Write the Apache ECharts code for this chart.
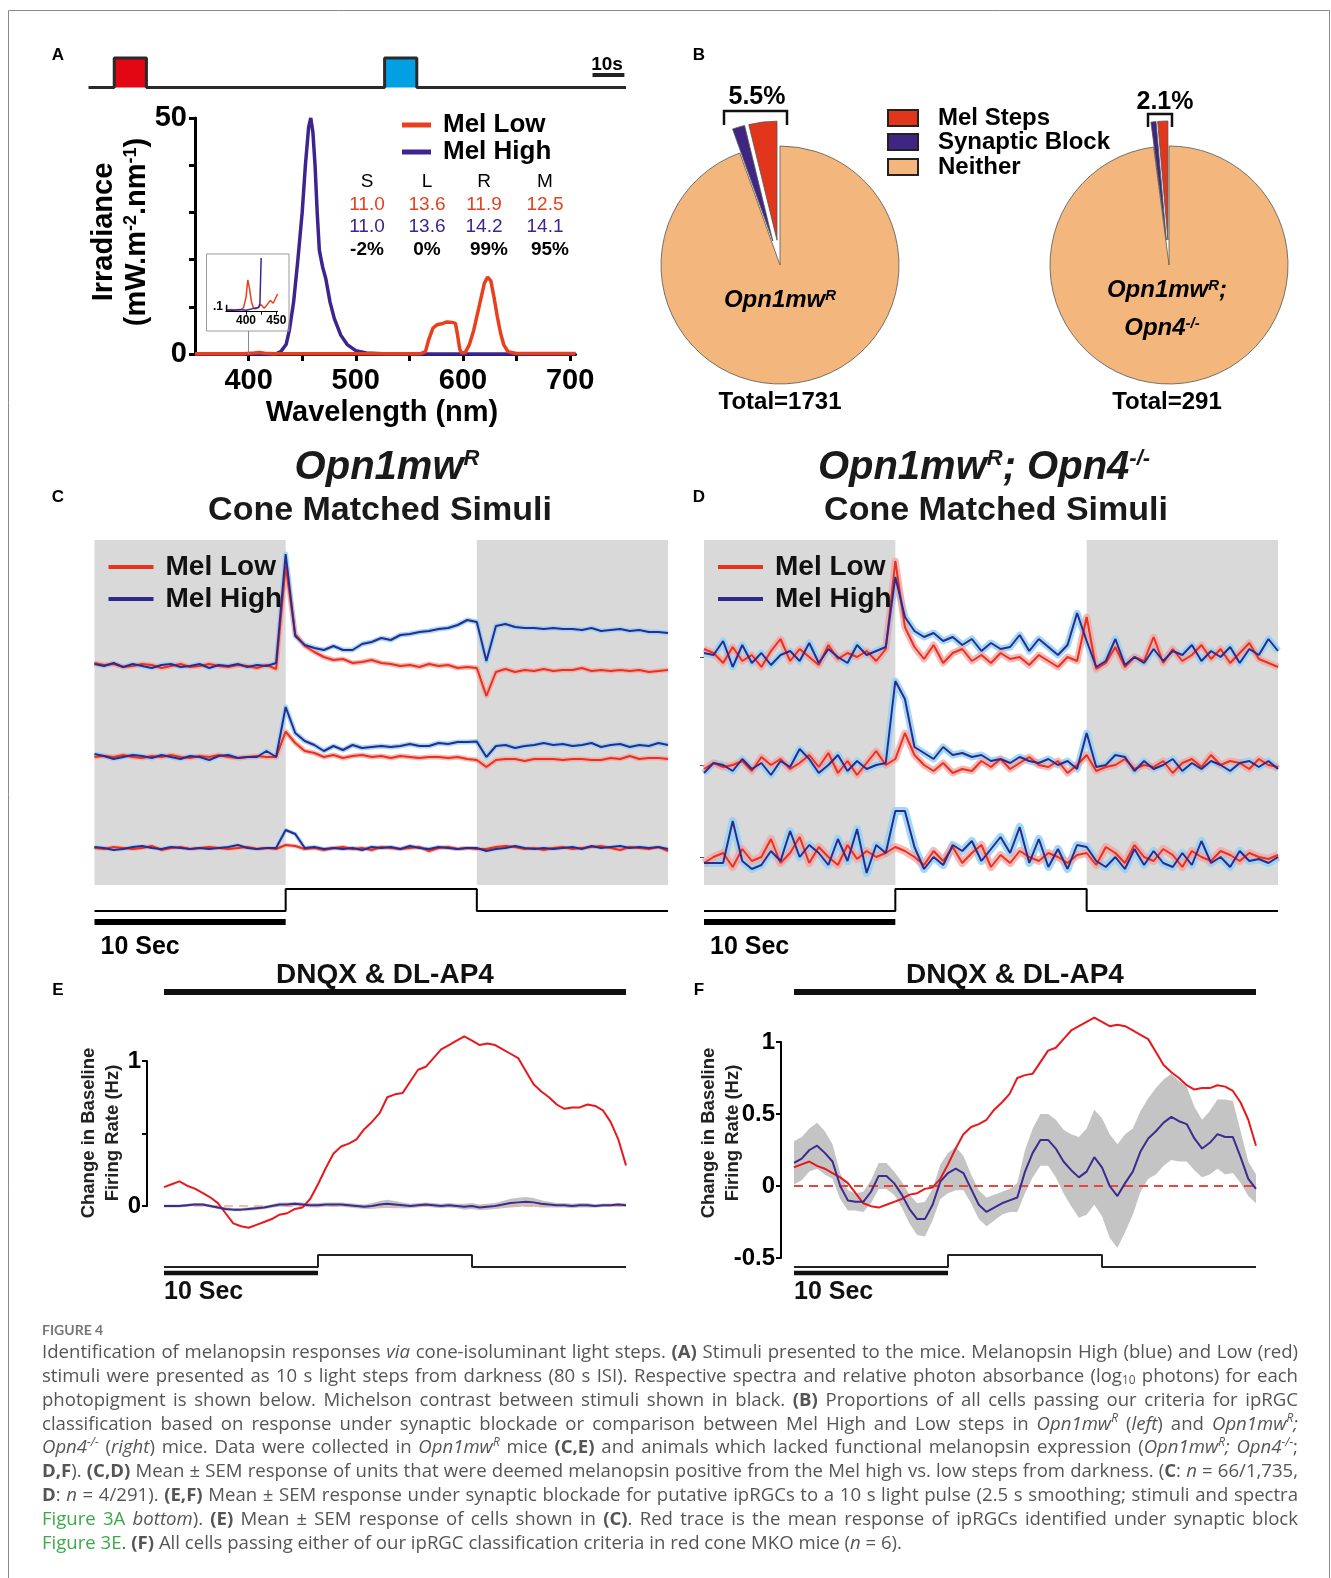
<!DOCTYPE html>
<html><head><meta charset="utf-8">
<script src="https://cdn.jsdelivr.net/npm/echarts@6/dist/echarts.min.js"></script>
<style>html,body{margin:0;padding:0;background:#fff}#c{width:1331px;height:1578px}</style>
</head><body><div id="c"></div>
<script>
// ---------------- DATA ----------------
// Panel A: stimulus protocol (seconds)
const stimAPulseStart = [8, 92];
const stimAPulseLen = 10;
const stimAEnd = 167;
// Panel A: spectra (nm, mW.m-2.nm-1)
const melHighWl  = [350,425,430,435,438,442,446,450,453,456,458,460,462,464,466,469,472,476,480,486,492,500,510,530,600,640,705];
const melHighIrr = [0,0,0.5,2,5,11,20,30,40,48,50,47,40,30,22,18.5,16,11,7.5,4,2,0.7,0.2,0,0,0,0];
const melLowWl  = [350,395,405,410,415,425,450,560,565,568,572,576,580,585,590,593,595,597,599,602,606,610,615,620,623,626,629,632,635,638,642,650,705];
const melLowIrr = [0.05,0.05,0.2,0.3,0.15,0.05,0.05,0.05,0.5,3,5.5,6.2,6.4,6.8,6.7,6.5,4,1,0.2,0.3,2,5,10,15,16.3,15.5,12,8,4.5,2,0.5,0.1,0.1];
// inset (zoom on 367-452 nm)
const insetLowWl  = [367,375,385,392,396,400,403,406,409,412,416,420,425,430,435,440,445,452];
const insetLowIrr = [0.02,0.03,0.02,0.03,0.06,0.2,0.45,0.32,0.14,0.06,0.04,0.06,0.1,0.05,0.1,0.16,0.12,0.25];
const insetHighWl  = [367,380,390,400,410,415,418,421,423,425];
const insetHighIrr = [0.02,0.02,0.03,0.02,0.04,0.05,0.03,0.06,0.12,0.76];
// Panel A table
const opsins = ['S','L','R','M'];
const melLowLog  = [11.0,13.6,11.9,12.5];
const melHighLog = [11.0,13.6,14.2,14.1];
const contrastPct = [-2,0,99,95];
// Panel B pies
const pieCats = ['Mel Steps','Synaptic Block','Neither'];
const pieLeftCounts  = [66, 29, 1636];
const pieRightCounts = [4, 2, 285];
const pieLeftPct = '5.5%', pieRightPct = '2.1%';
const pieLeftTotal = 1731, pieRightTotal = 291;
// Panels C-F: light step (s)
const stepOnsets = [10], stepLen = 10, stepEnd = 30;
// Panel C (0.5 s bins, 0..30 s) rows top->bottom
const C1High = [0.1,0.0,0.15,-0.05,0.1,0.0,-0.1,0.05,0.1,-0.05,0.0,0.1,-0.1,0.05,0.0,0.1,-0.05,0.05,0.0,0.15,
 5.6,1.5,1.05,0.9,0.8,1.0,0.8,0.8,1.1,1.2,1.4,1.3,1.55,1.6,1.7,1.75,1.85,1.9,2.05,2.3,2.2,
 0.25,2.0,2.1,1.95,1.9,1.9,1.85,1.9,1.85,1.85,1.8,1.9,1.75,1.8,1.85,1.75,1.8,1.7,1.7,1.65];
const C1Low = [0.15,0.05,0.1,-0.05,0.0,0.1,0.05,-0.1,0.0,0.1,-0.05,0.0,0.1,0.0,-0.05,0.05,0.0,-0.1,0.05,-0.15,
 5.0,1.6,1.0,0.7,0.45,0.3,0.35,0.15,0.2,0.3,0.15,0.1,0.0,0.05,-0.05,0.1,0.0,0.05,-0.1,-0.05,-0.1,
 -1.5,-0.3,-0.15,-0.3,-0.2,-0.25,-0.15,-0.25,-0.2,-0.2,-0.1,-0.25,-0.2,-0.25,-0.2,-0.25,-0.2,-0.3,-0.25,-0.2];
const C2High = [0.15,0.05,-0.1,0.0,0.1,0.05,-0.05,0.1,0.0,-0.1,0.05,0.0,-0.15,0.05,0.1,-0.05,0.0,0.0,0.3,0.0,
 2.5,1.2,0.8,0.6,0.3,0.55,0.35,0.6,0.45,0.5,0.55,0.5,0.55,0.65,0.55,0.55,0.7,0.65,0.75,0.75,0.77,
 0.0,0.55,0.6,0.45,0.55,0.6,0.7,0.6,0.65,0.55,0.6,0.7,0.5,0.6,0.65,0.5,0.6,0.55,0.7,0.6];
const C2Low = [0.0,0.05,0.0,0.1,0.0,-0.05,0.05,0.0,0.1,0.0,-0.05,0.05,0.0,0.1,0.0,-0.05,0.0,0.05,0.0,0.0,
 1.27,0.7,0.3,0.2,0.0,0.1,-0.05,0.05,0.1,0.0,0.05,-0.05,0.05,0.0,-0.05,0.0,0.0,-0.05,0.0,-0.1,-0.15,
 -0.5,-0.15,-0.1,-0.1,-0.2,-0.1,-0.1,-0.1,-0.15,-0.1,-0.1,-0.15,-0.15,-0.05,-0.1,0.05,-0.1,-0.05,-0.05,-0.1];
const C3High = [0.05,0.0,-0.1,-0.05,0.05,0.1,0.0,-0.05,0.05,0.0,-0.05,0.0,-0.05,0.0,0.05,0.15,0.0,-0.05,0.0,0.0,
 0.9,0.7,0.0,0.05,-0.05,0.0,-0.05,0.0,-0.1,0.05,0.0,0.05,-0.05,0.1,0.0,-0.05,0.05,0.0,-0.05,0.0,0.0,
 -0.15,-0.05,0.0,0.1,0.0,-0.05,0.0,-0.05,0.0,0.05,-0.05,0.1,0.0,0.05,0.1,0.0,0.05,0.0,0.05,-0.05];
const C3Low = [0.0,-0.05,0.05,0.0,-0.05,0.0,0.1,-0.1,0.0,0.05,-0.05,0.0,0.05,0.0,-0.05,0.0,0.05,-0.05,0.0,-0.05,
 0.15,0.1,-0.05,0.0,-0.1,0.0,0.05,-0.05,0.0,-0.1,0.05,0.0,-0.05,0.0,0.05,-0.15,0.0,0.05,-0.05,0.0,-0.05,
 -0.05,0.05,0.1,0.05,-0.05,0.0,-0.1,0.0,0.05,-0.05,0.0,0.05,0.1,0.0,-0.1,0.05,0.0,-0.05,0.05,-0.15];
// Panel D
const D1High = [0.2,0.1,0.8,-0.5,0.6,-0.3,0.2,-0.4,0.1,0.3,-0.2,0.7,-0.3,0.4,0.0,-0.3,0.6,0.1,0.3,0.5,
 4.0,2.0,1.3,1.0,1.2,0.8,1.0,0.6,0.9,0.3,0.7,0.4,0.5,1.1,0.3,0.9,0.5,0.1,0.6,2.2,0.8,
 -0.5,-0.2,0.9,-0.4,0.0,-0.3,0.4,-0.2,0.3,0.1,0.6,-0.2,0.3,0.0,0.5,-0.3,0.4,0.1,0.9,0.3];
const D1Low = [0.4,0.2,-0.3,0.5,-0.2,0.1,-0.5,0.3,0.9,-0.2,0.4,0.0,-0.4,0.6,-0.1,0.2,0.0,0.3,-0.2,0.4,
 4.8,1.5,0.5,-0.1,0.6,-0.3,0.2,0.4,-0.2,0.1,-0.3,0.2,-0.1,0.0,-0.4,0.1,-0.2,-0.5,0.0,-0.2,2.0,
 -0.6,-0.3,0.5,-0.5,0.0,-0.2,1.0,-0.3,0.4,-0.2,0.1,0.6,-0.1,0.4,-0.3,0.2,0.7,-0.1,-0.3,-0.5];
const D2High = [-0.4,0.1,0.0,-0.3,0.3,-0.2,0.1,-0.5,0.2,-0.1,0.8,0.3,-0.4,0.0,0.5,-0.3,0.2,-0.2,0.0,0.1,
 4.2,3.3,0.9,0.6,0.3,0.9,0.5,0.6,0.4,0.5,0.2,0.3,0.1,0.4,0.2,0.1,0.3,0.0,0.2,-0.2,1.6,
 -0.1,0.0,0.5,0.4,-0.3,0.2,-0.2,0.0,0.3,-0.3,0.1,-0.2,0.2,0.0,-0.3,0.1,0.2,-0.1,0.2,-0.2];
const D2Low = [-0.2,0.1,-0.1,0.0,0.2,-0.3,0.4,0.0,0.3,-0.2,0.1,0.5,-0.1,0.6,-0.4,0.2,-0.5,0.1,0.7,0.0,
 0.3,1.6,0.5,0.0,-0.3,0.1,-0.4,-0.2,-0.3,0.2,-0.1,0.3,-0.2,0.1,0.4,0.0,-0.1,0.2,-0.4,0.0,0.5,
 -0.3,-0.1,0.0,0.3,-0.2,0.0,-0.1,0.2,-0.4,0.1,0.3,-0.1,0.5,0.0,0.2,0.1,-0.2,0.3,0.0,-0.1];
const D3High = [-0.3,-0.3,-0.3,1.8,-0.2,-0.6,-0.4,0.3,-0.2,1.3,0.0,0.6,0.2,-0.4,0.9,-0.2,1.4,-0.8,0.6,0.2,
 2.3,2.3,0.5,-0.6,0.0,-0.4,0.6,0.3,0.8,-0.2,0.4,1.0,0.2,1.5,-0.3,0.9,-0.5,0.4,-0.6,0.6,0.5,
 -0.2,-0.5,0.0,-0.6,0.4,-0.4,0.3,-0.3,-0.5,0.2,-0.4,0.8,-0.3,0.0,-0.5,0.3,-0.2,-0.1,-0.3,0.0];
const D3Low = [-0.3,0.0,0.2,-0.5,0.4,-0.2,0.0,0.9,-0.3,0.2,1.0,-0.3,0.5,0.0,-0.4,0.6,-0.1,0.3,0.0,0.2,
 0.5,0.3,0.0,-0.4,0.3,-0.2,0.5,-0.3,0.2,0.6,-0.5,0.1,-0.3,0.3,0.0,-0.2,0.2,0.0,-0.3,0.1,0.2,
 -0.4,0.5,0.2,-0.3,0.6,0.0,-0.2,0.4,0.1,-0.5,0.3,0.0,-0.2,0.3,0.1,-0.2,0.2,0.0,-0.1,0.1];
// Panels E/F (Hz, 0.5 s bins)
const redSynBlock = [0.13,0.15,0.17,0.14,0.12,0.09,0.06,0.02,-0.05,-0.12,-0.14,-0.15,-0.13,-0.11,-0.09,-0.06,-0.05,-0.02,-0.01,0.05,
 0.15,0.26,0.36,0.41,0.43,0.46,0.53,0.58,0.64,0.75,0.77,0.78,0.86,0.94,0.96,1.02,1.08,1.11,1.14,1.17,
 1.14,1.11,1.12,1.11,1.08,1.05,1.02,0.93,0.84,0.79,0.75,0.70,0.67,0.68,0.68,0.70,0.69,0.66,0.58,0.46,0.28];
const EMean = [0.0,0.0,0.0,0.005,0.01,0.01,0.0,-0.01,-0.02,-0.025,-0.025,-0.02,-0.015,-0.01,0.0,0.01,0.01,0.015,0.01,0.005,
 0.005,0.01,0.01,0.01,0.005,0.0,-0.005,0.0,0.01,0.015,0.01,0.005,0.0,0.005,0.01,0.005,0.0,0.005,0.0,-0.005,
 0.0,-0.01,-0.005,0.0,0.01,0.02,0.025,0.03,0.025,0.015,0.01,0.005,0.005,0.0,0.005,0.005,0.0,0.005,0.005,0.01,0.005];
const ESem = [0.01,0.01,0.01,0.01,0.01,0.01,0.01,0.01,0.012,0.012,0.012,0.012,0.012,0.012,0.012,0.015,0.015,0.015,0.015,0.015,
 0.015,0.015,0.015,0.015,0.015,0.015,0.015,0.02,0.025,0.028,0.025,0.02,0.015,0.015,0.015,0.015,0.015,0.015,0.015,0.02,
 0.02,0.02,0.02,0.02,0.025,0.03,0.032,0.032,0.03,0.025,0.02,0.015,0.015,0.015,0.015,0.015,0.012,0.012,0.012,0.012,0.012];
const FMean = [0.16,0.19,0.25,0.28,0.23,0.17,0.0,-0.10,-0.11,-0.11,-0.04,0.07,0.07,0.02,-0.06,-0.16,-0.23,-0.23,-0.13,0.03,
 0.09,0.12,0.09,-0.02,-0.13,-0.18,-0.15,-0.12,-0.10,-0.08,0.10,0.23,0.32,0.32,0.26,0.17,0.11,0.06,0.10,0.20,
 0.13,0.0,-0.07,0.02,0.10,0.24,0.33,0.38,0.44,0.48,0.45,0.43,0.33,0.26,0.30,0.36,0.34,0.34,0.20,0.05,-0.02];
const FSem = [0.15,0.15,0.15,0.16,0.15,0.12,0.09,0.07,0.06,0.07,0.08,0.09,0.09,0.08,0.09,0.10,0.11,0.12,0.11,0.12,
 0.14,0.15,0.12,0.10,0.10,0.10,0.09,0.08,0.08,0.10,0.15,0.17,0.18,0.18,0.20,0.22,0.25,0.28,0.30,0.33,
 0.34,0.36,0.36,0.34,0.30,0.28,0.28,0.30,0.30,0.30,0.28,0.26,0.22,0.20,0.22,0.24,0.26,0.25,0.18,0.12,0.10];

// ---------------- HELPERS ----------------
const binT = []; for (let i = 0; i <= 60; i++) binT.push(i * 0.5);
const pairs = (xs, ys) => ys.map((v, i) => [xs[i], v]);
function stepData(onsets, dur, end) { const d = [[0,0]]; onsets.forEach(o => d.push([o,0],[o,1],[o+dur,1],[o+dur,0])); d.push([end,0]); return d; }

const FF = '"Liberation Sans", Arial, sans-serif';
const RED = '#e8401c', PURP = '#3d2490';
const CRED = '#e8321c', CBLUE = '#2c2a8f', CPINK = '#f3a3a3', CSKY = '#8fd3f4';
const grids = [], xAxes = [], yAxes = [], series = [], G = [];
function addGrid(g, xa, ya) {
  const i = grids.length;
  grids.push(Object.assign({ show: false }, g));
  xAxes.push(Object.assign({ type: 'value', gridIndex: i, show: false, splitLine: { show: false } }, xa));
  yAxes.push(Object.assign({ type: 'value', gridIndex: i, show: false, splitLine: { show: false } }, ya));
  return i;
}
function line(gi, data, color, width, extra) {
  series.push(Object.assign({ type: 'line', xAxisIndex: gi, yAxisIndex: gi, data, symbol: 'none', silent: true, clip: false,
    lineStyle: { color, width }, itemStyle: { color }, emphasis: { disabled: true } }, extra || {}));
}
// mean +/- SEM band drawn as one polygon through the axes' coordinate mapping
function band(gi, mean, sem, color) {
  series.push({ type: 'custom', xAxisIndex: gi, yAxisIndex: gi, silent: true, clip: false, data: [[binT[0], mean[0]]],
    renderItem: (params, api) => {
      const up = mean.map((m, i) => api.coord([binT[i], m + sem[i]]));
      const dn = mean.map((m, i) => api.coord([binT[i], m - sem[i]])).reverse();
      return { type: 'polygon', shape: { points: up.concat(dn) }, style: { fill: color } };
    } });
}
function txt(x, y, text, font, fill, align, extra) {
  G.push(Object.assign({ type: 'text', x, y, z: 100, silent: true, style: { text, font, fill: fill || '#000', align: align || 'center', verticalAlign: 'middle' } }, extra || {}));
}
function rtxt(x, y, text, rich, align, extra) {
  G.push(Object.assign({ type: 'text', x, y, z: 100, silent: true, style: { text, rich, fill: '#111', align: align || 'center', verticalAlign: 'middle' } }, extra || {}));
}
function gline(x1, y1, x2, y2, stroke, lineWidth) { G.push({ type: 'line', z: 100, silent: true, shape: { x1, y1, x2, y2 }, style: { stroke, lineWidth } }); }
function grect(x, y, width, height, fill, stroke, lineWidth) { G.push({ type: 'rect', z: 100, silent: true, shape: { x, y, width, height }, style: { fill, stroke, lineWidth: lineWidth || 0 } }); }
function gpoly(points, stroke, lineWidth) { G.push({ type: 'polyline', z: 100, silent: true, shape: { points }, style: { stroke, lineWidth, fill: null } }); }
const axBlack = w => ({ show: true, lineStyle: { color: '#000', width: w } });

// ---------------- PANEL A ----------------
txt(58, 55, 'A', 'bold 17px ' + FF);
const gAs = addGrid({ left: 88.5, top: 58, width: 537.5, height: 29.5 }, { min: 0, max: stimAEnd }, { min: 0, max: 1 });
const pulseColors = ['#e30613', '#00a0e3'];
stimAPulseStart.forEach((s, k) => line(gAs, [[s, 1], [s + stimAPulseLen, 1]], pulseColors[k], 0, { lineStyle: { opacity: 0 }, areaStyle: { color: pulseColors[k], opacity: 1 } }));
line(gAs, stepData(stimAPulseStart, stimAPulseLen, stimAEnd), '#2a2a2a', 3);
line(gAs, [[156.6, 0.42], [166.5, 0.42]], '#222', 4);
txt(607, 65, '10s', 'bold 19px ' + FF);

const gA = addGrid({ left: 195, top: 118, width: 380.5, height: 236 },
  { show: true, min: 350, max: 705, axisLine: axBlack(3),
    axisTick: { show: true, customValues: [400,450,500,550,600,650,700], length: 7, lineStyle: { color: '#000', width: 3 } },
    axisLabel: { customValues: [400,500,600,700], fontSize: 29, fontWeight: 'bold', color: '#000', fontFamily: FF, margin: 12 } },
  { show: true, min: 0, max: 50, axisLine: axBlack(3),
    axisTick: { show: true, customValues: [0,10,20,30,40,50], length: 6, lineStyle: { color: '#000', width: 3 } },
    axisLabel: { customValues: [0,50], fontSize: 29, fontWeight: 'bold', color: '#000', fontFamily: FF, margin: 8 } });
line(gA, pairs(melHighWl, melHighIrr), PURP, 3.5);
line(gA, pairs(melLowWl, melLowIrr), RED, 3.5);
txt(104, 232, 'Irradiance', 'bold 29px ' + FF, '#000', 'center', { rotation: Math.PI / 2 });
rtxt(137, 232, '{a|(mW.m}{s|-2}{a|.nm}{s|-1}{a|)}', {
  a: { font: 'bold 29px ' + FF, fill: '#000' }, s: { font: 'bold 18px ' + FF, fill: '#000', verticalAlign: 'top' } }, 'center', { rotation: Math.PI / 2 });
txt(382, 413, 'Wavelength (nm)', 'bold 29px ' + FF);
gline(402, 125, 431, 125, RED, 5); txt(443, 125, 'Mel Low', 'bold 26px ' + FF, '#000', 'left');
gline(402, 152, 431, 152, PURP, 5); txt(443, 152, 'Mel High', 'bold 26px ' + FF, '#000', 'left');
const colX = [367, 427, 484, 545];
opsins.forEach((o, i) => {
  txt(colX[i], 182, o, '19px ' + FF, '#000');
  txt(colX[i], 205, melLowLog[i].toFixed(1), '19px ' + FF, RED);
  txt(colX[i], 227, melHighLog[i].toFixed(1), '19px ' + FF, PURP);
  txt(colX[i] + (i >= 2 ? 5 : 0), 250, contrastPct[i] + '%', 'bold 19px ' + FF, '#000');
});
// inset
grect(206.5, 254, 82.5, 77, null, '#9a9a9a', 1);
gline(248.5, 331, 248.5, 354, '#888', 1);
const gIn = addGrid({ left: 226, top: 258, width: 51.5, height: 53.7 },
  { show: true, min: 367, max: 452, axisLine: axBlack(1), axisTick: { show: true, customValues: [400,425,450], length: 3, lineStyle: { color: '#000' } },
    axisLabel: { customValues: [400,450], fontSize: 12, fontWeight: 'bold', color: '#000', fontFamily: FF, margin: 3 } },
  { min: 0, max: 0.76 });
line(gIn, pairs(insetLowWl, insetLowIrr), RED, 1.5);
line(gIn, pairs(insetHighWl, insetHighIrr), PURP, 1.5);
line(gIn, [[368, 0], [368, 0.1]], '#000', 1.5);
txt(218, 307, '.1', 'bold 12px ' + FF);

// ---------------- PANEL B ----------------
txt(699, 55, 'B', 'bold 17px ' + FF);
const pieColors = ['#e2361c', '#3e2682', '#f3b77d'];
function pie(center, counts) {
  series.push({ type: 'pie', center, radius: 119, startAngle: 90, clockwise: false, selectedMode: 'multiple', selectedOffset: 25,
    silent: true, label: { show: false }, labelLine: { show: false }, emphasis: { disabled: true },
    itemStyle: { borderColor: '#555', borderWidth: 0.8 },
    data: counts.map((v, i) => ({ name: pieCats[i], value: v, selected: i < 2, itemStyle: { color: pieColors[i] } })) });
}
pie([780, 265], pieLeftCounts);
pie([1169, 265], pieRightCounts);
pieCats.forEach((c, i) => {
  const yy = [118, 142, 167][i];
  grect(888, yy - 8, 30, 16, pieColors[i], '#222', 2);
  txt(938, yy, c, 'bold 24px ' + FF, '#000', 'left');
});
gpoly([[724, 125], [724, 111], [787, 111], [787, 125]], '#111', 2.5);
txt(757, 97, pieLeftPct, 'bold 25px ' + FF);
gpoly([[1148, 127], [1148, 114], [1172, 114], [1172, 127]], '#111', 2.5);
txt(1165, 102, pieRightPct, 'bold 25px ' + FF);
const pieRich = { a: { font: 'italic bold 24px ' + FF, fill: '#000' }, s: { font: 'italic bold 15px ' + FF, fill: '#000', verticalAlign: 'top' } };
rtxt(780, 300, '{a|Opn1mw}{s|R}', pieRich);
rtxt(1167, 290, '{a|Opn1mw}{s|R}{a|;}', pieRich);
rtxt(1162, 328, '{a|Opn4}{s|-/-}', pieRich);
txt(780, 402, 'Total=' + pieLeftTotal, 'bold 24px ' + FF);
txt(1167, 402, 'Total=' + pieRightTotal, 'bold 24px ' + FF);

// ---------------- PANELS C & D ----------------
const titleRich = { a: { font: 'italic bold 40px ' + FF, fill: '#1a1a1a' }, s: { font: 'italic bold 22px ' + FF, fill: '#1a1a1a', verticalAlign: 'top' } };
function tracePanel(letter, lx, left, width, bases, rows, title1, t1x, t2x, bandW) {
  txt(lx, 497, letter, 'bold 17px ' + FF);
  rtxt(t1x, 468, title1, titleRich);
  txt(t2x, 511, 'Cone Matched Simuli', 'bold 34px ' + FF, '#1a1a1a');
  const gbg = addGrid({ left, top: 540, width, height: 345 }, { min: 0, max: stepEnd }, { min: 0, max: 1 });
  line(gbg, [[0, -5]], '#fff', 0, { markArea: { silent: true, itemStyle: { color: '#d9d9d9' }, data: [[{ xAxis: 0 }, { xAxis: stepOnsets[0] }], [{ xAxis: stepOnsets[0] + stepLen }, { xAxis: stepEnd }]] } });
  bases.forEach((b, r) => {
    const gi = addGrid({ left, top: b - 120, width, height: 160 }, { min: 0, max: stepEnd },
      letter === 'D' ? { show: true, min: -2, max: 6, axisLine: { show: false }, axisLabel: { show: false },
        axisTick: { show: true, customValues: [0], length: 4, lineStyle: { color: '#555' } } } : { min: -2, max: 6 });
    const [hi, lo] = rows[r];
    line(gi, pairs(binT, hi), CSKY, bandW[r], { lineStyle: { color: CSKY, width: bandW[r], opacity: 0.85, join: 'round' } });
    line(gi, pairs(binT, lo), CPINK, bandW[r], { lineStyle: { color: CPINK, width: bandW[r], opacity: 0.75, join: 'round' } });
    line(gi, pairs(binT, lo), CRED, 2);
    line(gi, pairs(binT, hi), CBLUE, 2);
  });
  const lgx = left + 14;
  gline(lgx, 567, lgx + 45, 567, CRED, 4); txt(lgx + 57, 567, 'Mel Low', 'bold 28px ' + FF, '#111', 'left');
  gline(lgx, 599, lgx + 45, 599, CBLUE, 4); txt(lgx + 57, 599, 'Mel High', 'bold 28px ' + FF, '#111', 'left');
  const gs = addGrid({ left, top: 889, width, height: 22 }, { min: 0, max: stepEnd }, { min: 0, max: 1 });
  line(gs, stepData(stepOnsets, stepLen, stepEnd), '#000', 2);
  line(gs, [[0, -0.5], [stepOnsets[0], -0.5]], '#000', 6);
  txt(left + 6, 947, '10 Sec', 'bold 25px ' + FF, '#000', 'left');
}
tracePanel('C', 58, 94.5, 573.5, [666, 757, 848], [[C1High, C1Low], [C2High, C2Low], [C3High, C3Low]],
  '{a|Opn1mw}{s|R}', 387, 380, [5, 5, 4]);
tracePanel('D', 699, 704, 574, [657, 765, 857], [[D1High, D1Low], [D2High, D2Low], [D3High, D3Low]],
  '{a|Opn1mw}{s|R}{a|; Opn4}{s|-/-}', 984, 996, [7, 7, 8]);

// ---------------- PANELS E & F ----------------
function blockPanel(letter, lx, axisLeft, dataLeft, dataW, y1, y0, yMinAxis, labelVals, mean, sem, zeroColor, zeroW, ytx) {
  const ppu = y0 - y1;
  txt(lx, 990, letter, 'bold 17px ' + FF);
  txt(dataLeft + dataW / 2 - 10, 975, 'DNQX & DL-AP4', 'bold 28px ' + FF, '#111');
  grect(dataLeft, 989, dataW, 6, '#111');
  const ticks = []; for (let v = yMinAxis; v <= 1.0001; v += 0.5) ticks.push(+v.toFixed(1));
  addGrid({ left: axisLeft, top: y1, width: dataLeft + dataW - axisLeft, height: ppu * (1 - yMinAxis) },
    { min: 0, max: stepEnd },
    { show: true, min: yMinAxis, max: 1, interval: 0.5, axisLine: axBlack(2),
      axisTick: { show: true, customValues: ticks, length: 5, lineStyle: { color: '#000', width: 2 } },
      axisLabel: { customValues: labelVals, fontSize: 24, fontWeight: 'bold', color: '#000', fontFamily: FF, margin: 6 } });
  const yMin = Math.min(yMinAxis, -0.25);
  const gi = addGrid({ left: dataLeft, top: y0 - 1.25 * ppu, width: dataW, height: (1.25 - yMin) * ppu }, { min: 0, max: stepEnd }, { min: yMin, max: 1.25 });
  band(gi, mean, sem, '#c4c4c4');
  line(gi, [[0, 0], [stepEnd, 0]], zeroColor, zeroW, { lineStyle: { color: zeroColor, width: zeroW, type: [9, 6] } });
  line(gi, pairs(binT, redSynBlock), '#e8191c', 2);
  line(gi, pairs(binT, mean), '#3b2c8e', 2);
  const gs = addGrid({ left: dataLeft, top: 1255, width: dataW, height: 12 }, { min: 0, max: stepEnd }, { min: 0, max: 1 });
  line(gs, stepData(stepOnsets, stepLen, stepEnd), '#222', 2);
  line(gs, [[0, -0.5], [stepOnsets[0], -0.5]], '#111', 4.5);
  txt(dataLeft, 1292, '10 Sec', 'bold 25px ' + FF, '#111', 'left');
  txt(ytx, 1133, 'Change in Baseline', 'bold 18.5px ' + FF, '#222', 'center', { rotation: Math.PI / 2 });
  txt(ytx + 24, 1133, 'Firing Rate (Hz)', 'bold 18.5px ' + FF, '#222', 'center', { rotation: Math.PI / 2 });
}
blockPanel('E', 58, 147, 164, 462, 1061, 1206, 0, [0, 1], EMean, ESem, '#f5a88a', 1.5, 89);
blockPanel('F', 699, 781, 794, 462, 1042, 1186, -0.5, [-0.5, 0, 0.5, 1], FMean, FSem, '#e8483c', 2, 709);

// ---------------- CAPTION ----------------
const captionLines = [
  [['n','Identification of melanopsin responses '],['i','via'],['n',' cone-isoluminant light steps. '],['b','(A)'],['n',' Stimuli presented to the mice. Melanopsin High (blue) and Low (red)']],
  [['n','stimuli were presented as 10 s light steps from darkness (80 s ISI). Respective spectra and relative photon absorbance (log'],['sub','10'],['n',' photons) for each']],
  [['n','photopigment is shown below. Michelson contrast between stimuli shown in black. '],['b','(B)'],['n',' Proportions of all cells passing our criteria for ipRGC']],
  [['n','classification based on response under synaptic blockade or comparison between Mel High and Low steps in '],['i','Opn1mw'],['sup','R'],['n',' ('],['i','left'],['n',') and '],['i','Opn1mw'],['sup','R'],['i',';']],
  [['i','Opn4'],['sup','-/-'],['n',' ('],['i','right'],['n',') mice. Data were collected in '],['i','Opn1mw'],['sup','R'],['n',' mice '],['b','(C,E)'],['n',' and animals which lacked functional melanopsin expression ('],['i','Opn1mw'],['sup','R'],['i','; Opn4'],['sup','-/-'],['n',';']],
  [['b','D,F'],['n','). '],['b','(C,D)'],['n',' Mean \u00b1 SEM response of units that were deemed melanopsin positive from the Mel high vs. low steps from darkness. ('],['b','C'],['n',': '],['i','n'],['n',' = 66/1,735,']],
  [['b','D'],['n',': '],['i','n'],['n',' = 4/291). '],['b','(E,F)'],['n',' Mean \u00b1 SEM response under synaptic blockade for putative ipRGCs to a 10 s light pulse (2.5 s smoothing; stimuli and spectra']],
  [['g','Figure 3A'],['n',' '],['i','bottom'],['n','). '],['b','(E)'],['n',' Mean \u00b1 SEM response of cells shown in '],['b','(C)'],['n','. Red trace is the mean response of ipRGCs identified under synaptic block']],
  [['g','Figure 3E'],['n','. '],['b','(F)'],['n',' All cells passing either of our ipRGC classification criteria in red cone MKO mice ('],['i','n'],['n',' = 6).']]
];
const capFam = '"Open Sans", Lato, sans-serif';
function capFontsFor(sz) {
  const s2 = (sz * 0.64).toFixed(1);
  return { n: sz + 'px ' + capFam, b: 'bold ' + sz + 'px ' + capFam, i: 'italic ' + sz + 'px ' + capFam,
    sup: 'italic ' + s2 + 'px ' + capFam, sub: s2 + 'px ' + capFam, g: sz + 'px ' + capFam };
}
const mctx = document.createElement('canvas').getContext('2d');
function mwF(text, font) { mctx.font = font; return mctx.measureText(text).width; }
function splitWords(segs, fonts) {
  const words = []; let cur = [];
  segs.forEach(([st, text]) => {
    text.split(' ').forEach((p, pi) => {
      if (pi > 0) { words.push(cur); cur = []; }
      if (p.length) cur.push({ st, text: p, w: mwF(p, fonts[st]) });
    });
  });
  words.push(cur);
  return words.filter(w => w.length);
}
// size the caption font so the (unjustified) last line spans its width in the reference
const capLeft = 42, capRight = 1298, capTop = 1353, capStep = 23.8, lastLineRight = 902;
let capSize = 17;
{
  const f = capFontsFor(capSize);
  const ws = splitWords(captionLines[captionLines.length - 1], f);
  const nat = ws.reduce((s, w) => s + w.reduce((a, r) => a + r.w, 0), 0) + (ws.length - 1) * mwF(' ', f.n);
  capSize = +(capSize * (lastLineRight - capLeft) / nat).toFixed(2);
}
const capFonts = capFontsFor(capSize);
const capDy = { sup: -6, sub: 4 };
const capColor = '#555555', capGreen = '#3aaa48';
txt(capLeft, 1330, 'FIGURE 4', 'bold 14px Lato', '#777', 'left');
captionLines.forEach((segs, li) => {
  const ws = splitWords(segs, capFonts);
  const total = ws.reduce((s, w) => s + w.reduce((a, r) => a + r.w, 0), 0);
  const gaps = ws.length - 1;
  const gap = li === captionLines.length - 1 ? mwF(' ', capFonts.n) : (capRight - capLeft - total) / gaps;
  let x = capLeft; const y = capTop + li * capStep;
  ws.forEach(w => {
    w.forEach(r => {
      G.push({ type: 'text', x, y: y + (capDy[r.st] || 0), z: 100, silent: true,
        style: { text: r.text, font: capFonts[r.st], fill: r.st === 'g' ? capGreen : capColor, align: 'left', verticalAlign: 'middle' } });
      x += r.w;
    });
    x += gap;
  });
});

// frame (open at the bottom, as in the page crop)
G.push({ type: 'polyline', z: 99, silent: true, shape: { points: [[8.5, 1578], [8.5, 10.5], [1329.5, 10.5], [1329.5, 1578]] }, style: { fill: null, stroke: '#8a8a8a', lineWidth: 1 } });

const chart = echarts.init(document.getElementById('c'), null, { renderer: 'canvas', width: 1331, height: 1578 });
chart.setOption({ animation: false, backgroundColor: '#fff', grid: grids, xAxis: xAxes, yAxis: yAxes, series, graphic: { elements: G } });
</script></body></html>
